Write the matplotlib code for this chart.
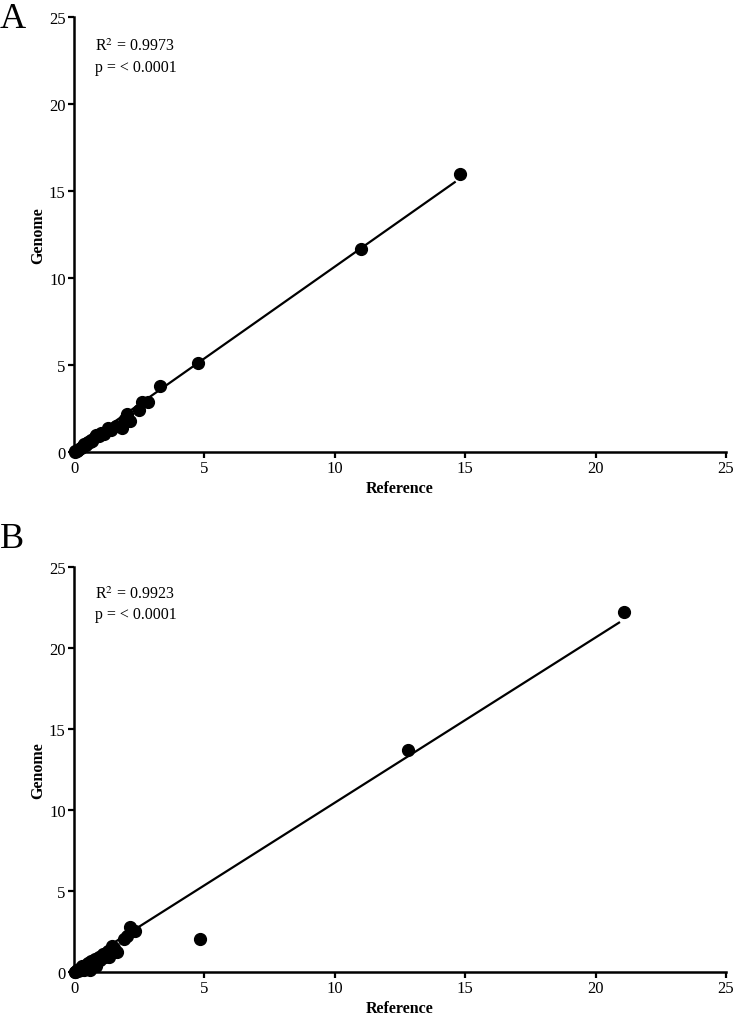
import numpy as np
import matplotlib
matplotlib.use("Agg")
import matplotlib.pyplot as plt

plt.rcParams['font.family'] = ['Liberation Serif', 'DejaVu Serif']
plt.rcParams['mathtext.fontset'] = 'stix'

# panel A: reference vs genome
ref_a = [0.02, 0.05, 0.10, 0.15, 0.20, 0.25, 0.30, 0.35, 0.40, 0.45, 0.50, 0.55,
         0.60, 0.65, 0.70, 0.80, 0.85, 0.95, 1.05, 1.15, 1.30, 1.40, 1.60, 1.85,
         1.95, 2.05, 2.15, 2.50, 2.60, 2.85, 3.30, 4.75, 11.00, 14.80]
gen_a = [0.00, 0.05, 0.08, 0.12, 0.20, 0.25, 0.30, 0.35, 0.45, 0.40, 0.50, 0.60,
         0.55, 0.70, 0.65, 0.85, 0.95, 0.90, 1.10, 1.05, 1.35, 1.25, 1.50, 1.40,
         1.90, 2.20, 1.80, 2.40, 2.90, 2.85, 3.80, 5.10, 11.65, 16.00]
fit_a = (1.055, 0.10)  # slope, intercept of the regression line
stats_a = ["R$^2$ = 0.9973", "p = < 0.0001"]

# panel B
ref_b = [0.02, 0.05, 0.10, 0.15, 0.20, 0.25, 0.30, 0.35, 0.40, 0.45, 0.50, 0.55,
         0.60, 0.65, 0.70, 0.80, 0.85, 0.95, 1.00, 1.10, 1.20, 1.30, 1.35, 1.45,
         1.55, 1.65, 1.90, 2.05, 2.15, 2.35, 4.85, 12.80, 21.10]
gen_b = [0.00, 0.02, 0.10, 0.05, 0.20, 0.15, 0.35, 0.25, 0.10, 0.45, 0.30, 0.55,
         0.15, 0.70, 0.50, 0.80, 0.35, 0.95, 0.75, 1.10, 0.90, 1.30, 0.90, 1.60,
         1.45, 1.25, 2.05, 2.20, 2.80, 2.50, 2.05, 13.70, 22.20]
fit_b = (1.02, 0.25)
stats_b = ["R$^2$ = 0.9923", "p = < 0.0001"]

ticks = [0, 5, 10, 15, 20, 25]

fig = plt.figure(figsize=(7.35, 10.2), dpi=100)
ax_a = fig.add_axes([0.1007, 0.5559, 0.887, 0.4265])
ax_b = fig.add_axes([0.1007, 0.0461, 0.887, 0.3970])


def panel(ax, x, y, fit, stats):
    x = np.array(x)
    y = np.array(y)
    m, b = fit
    xs = np.array([0, x.max() - 0.2])
    ax.plot(xs, m * xs + b, color='black', lw=1.6, zorder=2)
    ax.plot(x, y, 'o', color='black', ms=8.5, zorder=3, clip_on=False)
    ax.set_xlim(0, 25)
    ax.set_ylim(0, 25)
    ax.set_xticks(ticks)
    ax.set_yticks(ticks)
    for s in ['top', 'right']:
        ax.spines[s].set_visible(False)
    for s in ['left', 'bottom']:
        ax.spines[s].set_linewidth(1.8)
    ax.tick_params(direction='out', length=4, width=1.6, labelsize=12, pad=2)
    ax.set_xlabel('Reference', fontweight='bold', fontsize=11.5, labelpad=3)
    ax.set_ylabel('Genome', fontweight='bold', fontsize=11.5, labelpad=2)
    ax.text(0.032, 0.935, stats[0], transform=ax.transAxes, fontsize=11.5, va='center')
    ax.text(0.032, 0.885, stats[1], transform=ax.transAxes, fontsize=11.5, va='center')


panel(ax_a, ref_a, gen_a, fit_a, stats_a)
panel(ax_b, ref_b, gen_b, fit_b, stats_b)

fig.text(0.0, 0.997, 'A', fontsize=26, va='top', ha='left')
fig.text(0.0, 0.487, 'B', fontsize=26, va='top', ha='left')

fig.savefig('out.png', dpi=100)
